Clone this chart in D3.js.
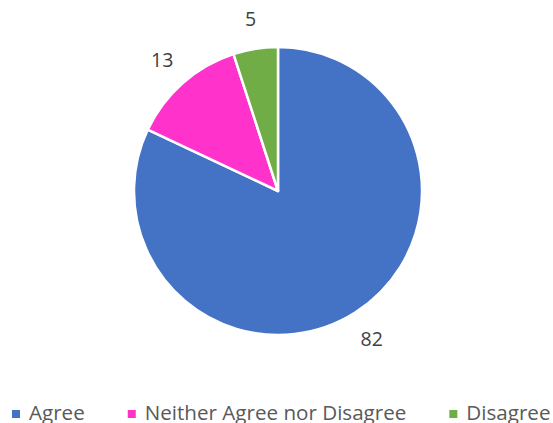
<!DOCTYPE html>
<html><head><meta charset="utf-8">
<script src="https://cdn.jsdelivr.net/npm/d3@7"></script>
<style>body{margin:0;background:#fff;overflow:hidden}svg{display:block}</style>
</head><body>
<svg id="c" width="553" height="423"></svg>
<script>
const categories = ["Agree", "Neither Agree nor Disagree", "Disagree"];
const values = [82, 13, 5];
const colors = ["#4472C4", "#FF33CC", "#70AD47"];

const svg = d3.select("#c");
const cx = 278, cy = 191, r = 144;
const g = svg.append("g").attr("transform", `translate(${cx},${cy})`);
const pie = d3.pie().sort(null).value(d => d)(values);
const arc = d3.arc().innerRadius(0).outerRadius(r);
const labelArc = d3.arc().innerRadius(175).outerRadius(175);
g.selectAll("path").data(pie).join("path")
  .attr("d", arc).attr("fill", (d, i) => colors[i])
  .attr("stroke", "#fff").attr("stroke-width", 2.5).attr("stroke-linejoin", "round");
g.selectAll("text.lbl").data(pie).join("text").attr("class", "lbl")
  .attr("transform", d => `translate(${labelArc.centroid(d)})`)
  .attr("text-anchor", "middle").attr("dominant-baseline", "central")
  .attr("font-family", "Open Sans, sans-serif").attr("font-size", 19.5).attr("fill", "#404040")
  .text(d => d.data);

const leg = svg.append("g");
let x = 12;
categories.forEach((c, i) => {
  leg.append("rect").attr("x", x).attr("y", 410).attr("width", 8).attr("height", 8).attr("fill", colors[i]);
  const t = leg.append("text").attr("x", x + 17).attr("y", 420)
    .attr("font-family", "Open Sans, sans-serif").attr("font-size", 20.6).attr("fill", "#595959").text(c);
  x += 17 + t.node().getComputedTextLength() + 43;
});
</script>
</body></html>
